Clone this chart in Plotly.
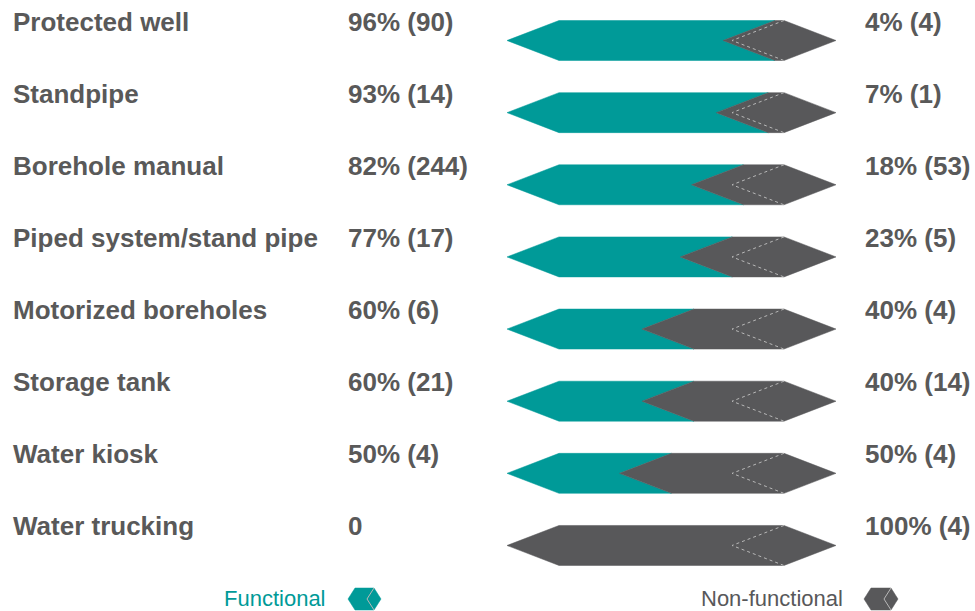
import plotly.graph_objects as go

categories = ["Protected well", "Standpipe", "Borehole manual", "Piped system/stand pipe",
              "Motorized boreholes", "Storage tank", "Water kiosk", "Water trucking"]
functional_pct = [96, 93, 82, 77, 60, 60, 50, 0]
functional_n = [90, 14, 244, 17, 6, 21, 4, 0]
nonfunctional_pct = [4, 7, 18, 23, 40, 40, 50, 100]
nonfunctional_n = [4, 1, 53, 5, 4, 14, 4, 4]
legend_labels = ["Functional", "Non-functional"]

TEAL = "#009a98"
GREY = "#58585a"
TEXT = "#595959"
DASH = "#b8b8b8"

W, H = 975, 611
# axis geometry: x in percent of the bar body, y in row index
PX_PER_PCT = 2.25
X0_PX = 559.0           # pixel of 0%
ROW0_PX = 40.5          # pixel of first row centre
ROW_PX = 72.14          # pixels per row
TIP = 52 / PX_PER_PCT   # arrow tip width in % units
HALF = 20 / ROW_PX      # half bar height in row units

def px_x(px):
    return (px - X0_PX) / PX_PER_PCT

def px_y(py):
    return (py - ROW0_PX) / ROW_PX

fig = go.Figure()

def poly(xs, ys, color, line_color=None, dash=None, fill=True):
    if fill:
        fig.add_trace(go.Scatter(x=xs + [xs[0]], y=ys + [ys[0]], mode="lines", fill="toself",
                                 fillcolor=color, line=dict(color=color, width=0.5),
                                 hoverinfo="skip", showlegend=False))
    else:
        fig.add_trace(go.Scatter(x=xs, y=ys, mode="lines",
                                 line=dict(color=line_color, width=1, dash=dash),
                                 hoverinfo="skip", showlegend=False))

for i, cat in enumerate(categories):
    top, bot, c = i - HALF, i + HALF, i
    d = functional_pct[i]
    if d > 0:
        poly([-TIP, 0, d, d - TIP, d, 0], [c, top, top, c, bot, bot], TEAL)
    if nonfunctional_pct[i] > 0:
        poly([d, 100, 100 + TIP, 100, d, d - TIP], [top, top, c, bot, bot, c], GREY)
    poly([100, 100 - TIP, 100], [top, c, bot], None, line_color=DASH, dash="dot", fill=False)

# legend icons
def icon(left_px, right_px, cy_px, color):
    tip = 7
    l, r = px_x(left_px), px_x(right_px)
    t = px_x(left_px + tip) - l
    cy = px_y(cy_px)
    hh = 11 / ROW_PX
    poly([l, l + t, r - t, r, r - t, l + t], [cy, cy - hh, cy - hh, cy, cy + hh, cy + hh], color)
    poly([r - t, r - 2 * t, r - t], [cy - hh, cy, cy + hh], None, line_color=DASH, dash="solid", fill=False)

icon(348, 381, 599, TEAL)
icon(864, 898, 599, GREY)

LABEL_FONT = dict(family="Liberation Sans, Arial, sans-serif", size=26, color=TEXT)
annotations = []
for i, cat in enumerate(categories):
    yy = i - 19 / ROW_PX
    annotations.append(dict(x=11 / W, y=yy, xref="paper", yref="y", text=f"<b>{cat}</b>",
                            showarrow=False, xanchor="left", yanchor="middle", font=LABEL_FONT))
    ltxt = f"{functional_pct[i]}% ({functional_n[i]})" if functional_n[i] > 0 else "0"
    annotations.append(dict(x=346 / W, y=yy, xref="paper", yref="y", text=f"<b>{ltxt}</b>",
                            showarrow=False, xanchor="left", yanchor="middle", font=LABEL_FONT))
    rtxt = f"{nonfunctional_pct[i]}% ({nonfunctional_n[i]})"
    annotations.append(dict(x=863 / W, y=yy, xref="paper", yref="y", text=f"<b>{rtxt}</b>",
                            showarrow=False, xanchor="left", yanchor="middle", font=LABEL_FONT))

LEG_FONT = "Liberation Sans, Arial, sans-serif"
annotations.append(dict(x=328 / W, y=px_y(598), xref="paper", yref="y", text=legend_labels[0],
                        showarrow=False, xanchor="right", yanchor="middle",
                        font=dict(family=LEG_FONT, size=22, color=TEAL)))
annotations.append(dict(x=845 / W, y=px_y(598), xref="paper", yref="y", text=legend_labels[1],
                        showarrow=False, xanchor="right", yanchor="middle",
                        font=dict(family=LEG_FONT, size=22, color=GREY)))

fig.update_layout(
    width=W, height=H,
    margin=dict(l=0, r=0, t=0, b=0),
    paper_bgcolor="white", plot_bgcolor="white",
    xaxis=dict(range=[px_x(0), px_x(W)], visible=False, fixedrange=True),
    yaxis=dict(range=[px_y(H), px_y(0)], visible=False, fixedrange=True),
    annotations=annotations,
    showlegend=False,
)

fig.write_html("out.html", config={"displayModeBar": False},
               post_script="document.body.style.margin='0';document.body.style.overflow='hidden';")
